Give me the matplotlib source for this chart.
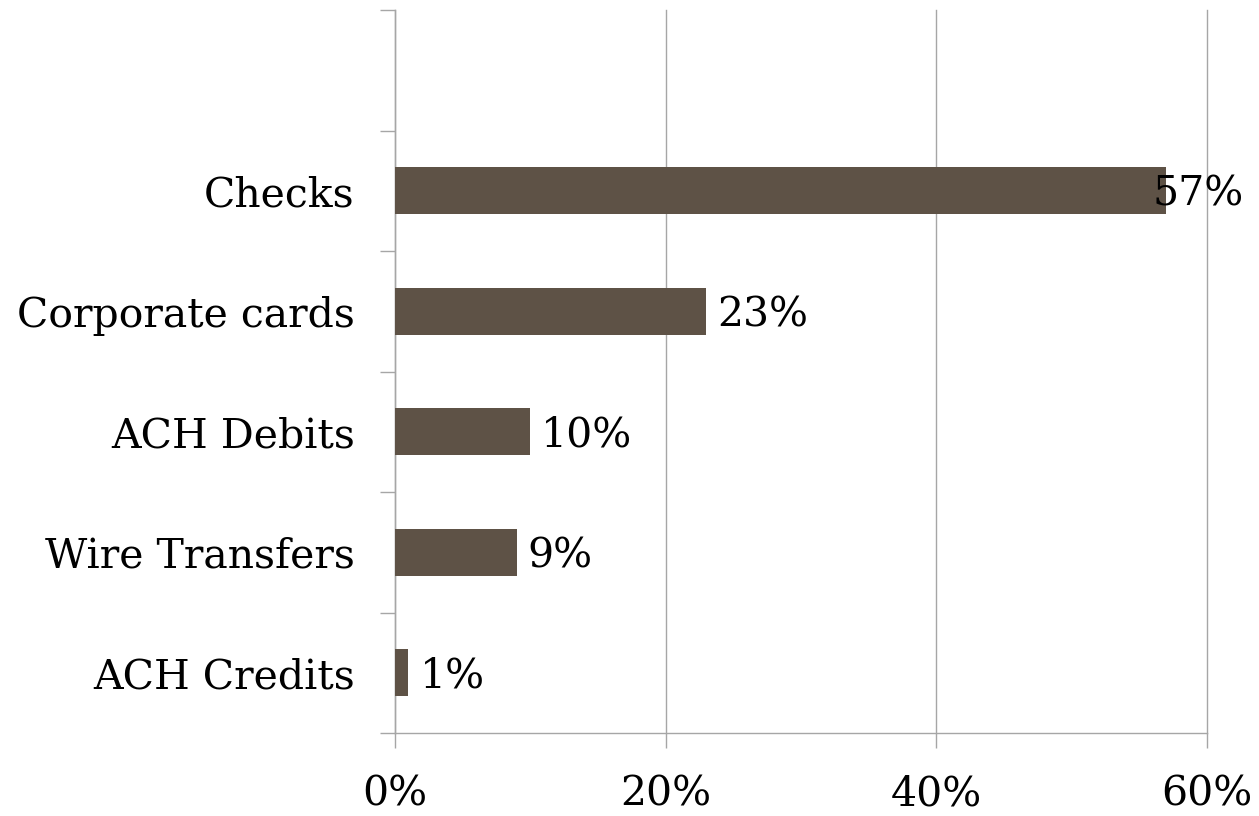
import numpy as np
import matplotlib
matplotlib.use('Agg')
import matplotlib.pyplot as plt
from matplotlib.ticker import FuncFormatter

# Data (bottom to top); top slot is an empty category
categories = ['ACH Credits', 'Wire Transfers', 'ACH Debits', 'Corporate cards', 'Checks', '']
values = [1, 9, 10, 23, 57, None]
x_ticks = [0, 20, 40, 60]

bar_color = '#5e5246'
axis_color = '#a6a6a6'
fs = 29.5

plt.rcParams['font.family'] = ['DejaVu Serif']

fig = plt.figure(figsize=(12.59, 8.16), dpi=100)
ax = fig.add_axes([0.3137, 0.1017, 0.645, 0.886])

y = np.arange(len(categories))
vals = [v if v is not None else 0 for v in values]
bars = ax.barh(y, vals, height=0.39, color=bar_color, zorder=3)

ax.set_xlim(0, 60)
ax.set_ylim(-0.5, len(categories) - 0.5)

# category boundaries as ticks
ax.set_yticks(np.arange(len(categories) + 1) - 0.5)
ax.set_yticklabels([])
ax.set_yticks(y, minor=True)
ax.set_yticklabels(categories, minor=True)
ax.tick_params(axis='y', which='major', length=11, width=1, color=axis_color)
ax.tick_params(axis='y', which='minor', length=0, pad=29, labelsize=fs)

ax.set_xticks(x_ticks)
ax.xaxis.set_major_formatter(FuncFormatter(lambda v, p: f'{v:.0f}%'))
ax.tick_params(axis='x', length=11, width=1, color=axis_color, pad=19, labelsize=fs)

ax.grid(axis='x', color=axis_color, linewidth=1, zorder=0)
for line in ax.get_xgridlines():
    line.set_clip_on(False)
for side in ['top', 'right']:
    ax.spines[side].set_visible(False)
for side in ['left', 'bottom']:
    ax.spines[side].set_color(axis_color)
    ax.spines[side].set_linewidth(1)

# value labels
vmax = max(v for v in values if v is not None)
for yi, v in zip(y, values):
    if v is None:
        continue
    off = -10 if v == vmax else 8
    ax.annotate(f'{v}%', xy=(v, yi), xytext=(off, -3), textcoords='offset points',
                ha='left', va='center', fontsize=fs, zorder=4, annotation_clip=False)

fig.savefig('out.png', dpi=100)
